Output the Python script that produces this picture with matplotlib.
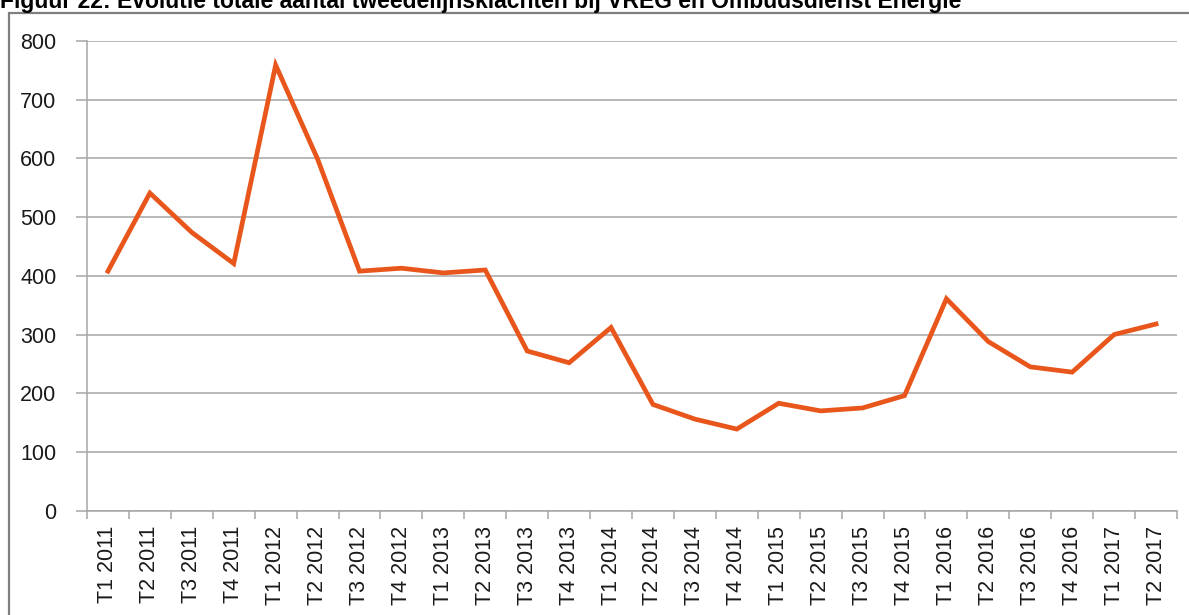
import matplotlib.pyplot as plt
from matplotlib.patches import Rectangle

plt.rcParams['font.family'] = ['Liberation Sans', 'DejaVu Sans']

# Data
quarters = ['T1 2011', 'T2 2011', 'T3 2011', 'T4 2011',
            'T1 2012', 'T2 2012', 'T3 2012', 'T4 2012',
            'T1 2013', 'T2 2013', 'T3 2013', 'T4 2013',
            'T1 2014', 'T2 2014', 'T3 2014', 'T4 2014',
            'T1 2015', 'T2 2015', 'T3 2015', 'T4 2015',
            'T1 2016', 'T2 2016', 'T3 2016', 'T4 2016',
            'T1 2017', 'T2 2017']
complaints = [408, 541, 474, 421,
              759, 599, 408, 413,
              405, 410, 272, 252,
              312, 181, 156, 139,
              183, 170, 175, 196,
              361, 288, 245, 236,
              300, 318]
yticks = [0, 100, 200, 300, 400, 500, 600, 700, 800]

title = 'Figuur 22: Evolutie totale aantal tweedelijnsklachten bij VREG en Ombudsdienst Energie'

fig = plt.figure(figsize=(11.89, 6.15), dpi=100)

# chart frame (cut off at right and bottom)
fig.patches.append(Rectangle((9 / 1189, -0.1), 1.2, 1 - 13 / 615 + 0.1,
                             transform=fig.transFigure, fill=False,
                             edgecolor='#7f7f7f', linewidth=1.6))

# title, partly cut off at the top like in the source page
fig.text(0.0, 1 - 8 / 615, title, fontsize=16.5, fontweight='bold',
         color='black', ha='left', va='baseline')

ax = fig.add_axes([87 / 1189, 1 - 510.7 / 615, 1090 / 1189, (510.7 - 41) / 615])

x = range(len(quarters))
ax.plot(x, complaints, color='#E8561C', linewidth=3.4, solid_joinstyle='miter')

ax.set_xlim(-0.5, len(quarters) - 0.5)
ax.set_ylim(0, 800)
ax.set_yticks(yticks)
ax.yaxis.grid(True, color='#a6a6a6', linewidth=1.1)
ax.set_axisbelow(True)

ax.set_xticks([i for i in x])
ax.set_xticklabels(quarters, rotation=90)
ax.set_xticks([i - 0.5 for i in range(len(quarters) + 1)], minor=True)
ax.tick_params(axis='x', which='major', length=0, labelsize=15.5, pad=11)
ax.tick_params(axis='x', which='minor', length=6, color='#a6a6a6', width=1.1)
ax.tick_params(axis='y', length=8, color='#a6a6a6', width=1.1, labelsize=15.5, pad=14)

for side in ['top', 'right']:
    ax.spines[side].set_visible(False)
ax.spines['left'].set_color('#a6a6a6')
ax.spines['bottom'].set_color('#a6a6a6')
ax.spines['left'].set_linewidth(1.1)
ax.spines['bottom'].set_linewidth(1.1)

for lab in ax.get_xticklabels() + ax.get_yticklabels():
    lab.set_color('#1a1a1a')

fig.savefig('out.png', dpi=100)
